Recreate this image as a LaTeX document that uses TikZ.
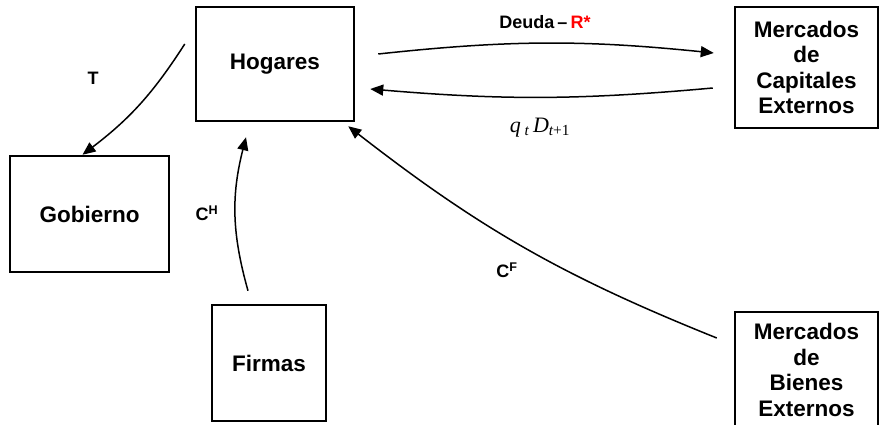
\documentclass[tikz,border=0pt]{standalone}
\usepackage{fontspec}
\setmainfont{Liberation Sans}
\newfontfamily\serifrm{Liberation Serif}
\usetikzlibrary{positioning}
\usetikzlibrary{arrows.meta}

\begin{document}
\begin{tikzpicture}[x=1pt, y=1pt,
		caja/.style={draw, line width=2.5pt, align=center, inner sep=0pt, font=\fontsize{22.5}{25.5}\selectfont\bfseries},
		flecha/.style={line width=1.5pt, -{Triangle[length=13pt, width=11pt]}},
		etiqueta/.style={font=\fontsize{18}{20}\selectfont\bfseries}]
			\useasboundingbox (0,0) rectangle (879,424);
			\node[caja, minimum width=158pt, minimum height=114pt] (hog) at (275,360) {Hogares};
			\node[caja, minimum width=159pt, minimum height=116pt] (gob) at (89.5,210) {Gobierno};
			\node[caja, minimum width=114pt, minimum height=116pt] (firm) at (269,61) {Firmas};
			\node[caja, minimum width=143pt, minimum height=121pt] (cap) at (806.5,356.5) {Mercados\\de\\Capitales\\Externos};
			\node[caja, minimum width=143pt, minimum height=116pt] (bien) at (806.5,54) {Mercados\\de\\Bienes\\Externos};
			\draw[flecha] ([shift={(-10,20)}]hog.west) to[bend left=10] ([xshift=-7pt]gob.north);
			\draw[flecha] ([shift={(23,10)}]hog.east) to[bend left=6] ([shift={(-20,14.5)}]cap.west);
			\draw[flecha] ([shift={(-21,-20.5)}]cap.west) to[bend left=5] ([shift={(15,-25)}]hog.east);
			\draw[flecha] ([shift={(-21,13)}]firm.north) to[bend left=15] ([shift={(-29,-15)}]hog.south);
			\draw[flecha] ([shift={(-17,32)}]bien.west) to[bend left=8] ([shift={(-7,-4)}]hog.south east);
			\node[etiqueta] (t) at (93,346) {T};
			\node[etiqueta] (ch) at (207,211) {C\textsuperscript{H}};
			\node[etiqueta] (cf) at (507,154) {C\textsuperscript{F}};
			\node[etiqueta] (deuda) at (545,402) {Deuda\,--\,\textcolor{red}{R*}};
			\node[font=\fontsize{22}{24}\selectfont\serifrm] (qd) at (540,296) {\itshape q\,\textsubscript{t}\,D\textsubscript{t\upshape +1}};
		\end{tikzpicture}
\end{document}
